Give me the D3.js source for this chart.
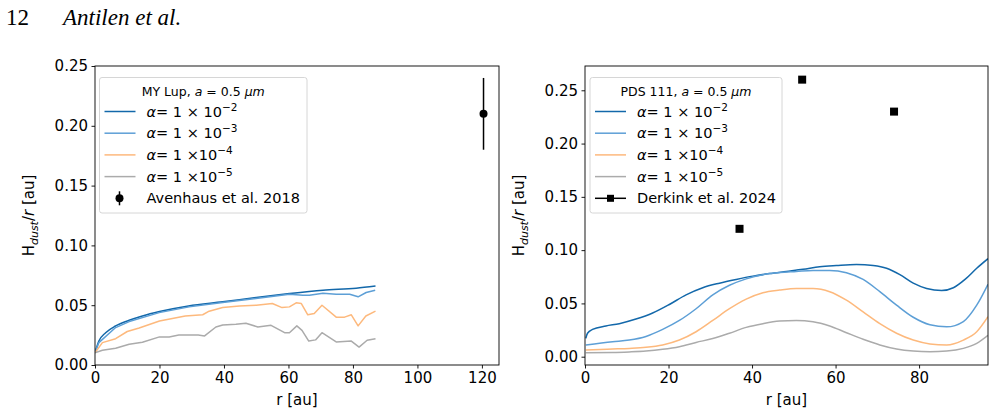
<!DOCTYPE html>
<html>
<head>
<meta charset="utf-8">
<script src="https://cdn.jsdelivr.net/npm/d3@7"></script>
<style>
  body { margin: 0; background: #fff; }
  svg { display: block; }
  text { font-family: "DejaVu Sans", sans-serif; }
</style>
</head>
<body>
<svg id="chart" width="996" height="417"></svg>
<script>
// MY Lup (left panel)
const lupR1 = [0, 1.2, 3.3, 6.4, 10.6, 14.7, 20, 29, 39.6, 50, 60.3, 70.7, 81, 87];
const lupH1 = [0.0103, 0.020, 0.027, 0.0327, 0.0374, 0.041, 0.0447, 0.0494, 0.0528, 0.0564, 0.0597, 0.0625, 0.0642, 0.066];
const lupR2 = [0, 1.2, 6.4, 10.6, 19.9, 29.2, 39.6, 49.9, 60.3, 64.5, 66.5, 70.7, 74.8, 79, 81.6, 84.1, 86.9];
const lupH2 = [0.0103, 0.0187, 0.0313, 0.0363, 0.0438, 0.0486, 0.0522, 0.0556, 0.0592, 0.0583, 0.0583, 0.060, 0.0592, 0.0592, 0.057, 0.0606, 0.0625];
const lupR3 = [0, 2.3, 6.4, 10, 13.7, 20, 24, 28, 33.4, 35.4, 39.6, 44.8, 50, 55, 58, 60.3, 62.4, 64, 66, 68, 70.4, 74.8, 77.4, 79.5, 81.6, 84, 87];
const lupH3 = [0.0103, 0.0187, 0.022, 0.028, 0.031, 0.0368, 0.0388, 0.041, 0.042, 0.045, 0.048, 0.0494, 0.050, 0.0514, 0.048, 0.0486, 0.052, 0.0514, 0.042, 0.043, 0.050, 0.040, 0.040, 0.042, 0.0327, 0.041, 0.045];
const lupR4 = [0, 2.3, 6.4, 10.6, 14.7, 20, 23, 26, 32, 34, 37.5, 39.6, 43.7, 46.8, 50.5, 54.6, 58.8, 60.3, 62.6, 64.2, 66.3, 68.4, 70.4, 74.8, 79.5, 81.9, 84.4, 87];
const lupH4 = [0.0103, 0.0123, 0.014, 0.0173, 0.019, 0.0235, 0.0235, 0.025, 0.025, 0.0243, 0.0318, 0.0335, 0.034, 0.0349, 0.0318, 0.0332, 0.027, 0.027, 0.0327, 0.029, 0.020, 0.021, 0.027, 0.0193, 0.020, 0.015, 0.0207, 0.022];
const avenhaus = { r: 120.5, h: 0.21, err: 0.03 };

// PDS 111 (right panel)
const pdsR1 = [0.2, 0.6, 1.8, 5, 8.2, 12.2, 16.2, 20.2, 24.2, 28.2, 32.2, 36.2, 40.2, 44.2, 48.2, 52.2, 56.2, 60.2, 65, 69, 72.2, 75.4, 78.6, 81.8, 85.4, 88.2, 91, 93.8, 96.5];
const pdsH1 = [0.0172, 0.022, 0.0256, 0.0288, 0.031, 0.0353, 0.041, 0.049, 0.058, 0.0647, 0.069, 0.0725, 0.0756, 0.078, 0.080, 0.082, 0.0844, 0.0856, 0.0866, 0.0856, 0.083, 0.077, 0.069, 0.064, 0.062, 0.0647, 0.0725, 0.083, 0.092];
const pdsR = [0.2, 6.6, 10.6, 14.6, 18.6, 22.6, 26.6, 30.6, 34.6, 38.6, 42.6, 46.6, 50.6, 54.6, 58.6, 62.6, 66.6, 70.6, 74.6, 78.6, 82.6, 86.6, 90.6, 93.8, 96.5];
const pdsH2 = [0.011, 0.014, 0.0156, 0.019, 0.0256, 0.034, 0.045, 0.058, 0.067, 0.073, 0.077, 0.079, 0.080, 0.081, 0.081, 0.0788, 0.0725, 0.061, 0.0484, 0.037, 0.030, 0.028, 0.033, 0.0484, 0.068];
const pdsH3 = [0.0063, 0.0072, 0.0078, 0.0088, 0.011, 0.0156, 0.0234, 0.034, 0.045, 0.054, 0.060, 0.0625, 0.064, 0.064, 0.061, 0.053, 0.042, 0.031, 0.022, 0.0156, 0.012, 0.011, 0.0156, 0.0234, 0.0375];
const pdsH4 = [0.0038, 0.004, 0.0045, 0.0053, 0.0069, 0.0094, 0.0134, 0.017, 0.022, 0.0275, 0.031, 0.0334, 0.034, 0.0328, 0.0288, 0.0225, 0.0163, 0.011, 0.0072, 0.0053, 0.0047, 0.0053, 0.0078, 0.0125, 0.020];
const derkinkR = [37, 52, 74];
const derkinkH = [0.12, 0.26, 0.23];

const alphaExp = ["−2", "−3", "−4", "−5"];
const colors = ["#1368aa", "#5d9fd6", "#fdb97d", "#ababab"];
const yTicks = [0, 0.05, 0.10, 0.15, 0.20, 0.25];

const svg = d3.select("#chart");
svg.append("rect").attr("width", 996).attr("height", 417).attr("fill", "#fff");

// page header
svg.append("text").attr("x", 6).attr("y", 25)
    .style("font-family", "'Liberation Serif', serif").style("font-size", "23px")
    .text("12");
svg.append("text").attr("x", 63).attr("y", 25)
    .style("font-family", "'Liberation Serif', serif").style("font-size", "23px")
    .style("font-style", "italic")
    .text("Antilen et al.");

const zip = (rs, hs) => rs.map((r, i) => ({ r: r, h: hs[i] }));

function drawPanel(cfg) {
    const x = d3.scaleLinear().domain(cfg.xDomain).range([cfg.left, cfg.right]);
    const y = d3.scaleLinear().domain(cfg.yDomain).range([cfg.bottom, cfg.top]);
    const g = svg.append("g");

    const clipId = "clip" + cfg.id;
    g.append("clipPath").attr("id", clipId).append("rect")
        .attr("x", cfg.left).attr("y", cfg.top)
        .attr("width", cfg.right - cfg.left).attr("height", cfg.bottom - cfg.top);

    const plot = g.append("g").attr("clip-path", `url(#${clipId})`);

    cfg.series.forEach((s, i) => {
        const line = d3.line()
            .x(d => x(d.r))
            .y(d => y(d.h))
            .curve(s.smooth ? d3.curveMonotoneX : d3.curveLinear);
        plot.append("path")
            .datum(s.data)
            .attr("fill", "none")
            .attr("stroke", colors[i])
            .attr("stroke-width", 1.5)
            .attr("stroke-linejoin", "round")
            .attr("d", line);
    });

    if (cfg.errorbar) {
        const e = cfg.errorbar;
        plot.append("line")
            .attr("x1", x(e.r)).attr("x2", x(e.r))
            .attr("y1", y(e.h - e.err)).attr("y2", y(e.h + e.err))
            .attr("stroke", "#000").attr("stroke-width", 1.5);
        plot.append("circle")
            .attr("cx", x(e.r)).attr("cy", y(e.h)).attr("r", 4).attr("fill", "#000");
    }
    if (cfg.squares) {
        plot.selectAll("rect.sq")
            .data(cfg.squares)
            .enter().append("rect")
            .attr("class", "sq")
            .attr("x", d => x(d.r) - 4).attr("y", d => y(d.h) - 4)
            .attr("width", 8).attr("height", 8)
            .attr("fill", "#000");
    }

    // axes
    const xAxis = g.append("g")
        .attr("transform", `translate(0,${cfg.bottom})`)
        .call(d3.axisBottom(x).tickValues(cfg.xTicks).tickFormat(d3.format("d"))
            .tickSize(3.5).tickPadding(3.5));
    const yAxis = g.append("g")
        .attr("transform", `translate(${cfg.left},0)`)
        .call(d3.axisLeft(y).tickValues(yTicks).tickFormat(d3.format(".2f"))
            .tickSize(3.5).tickPadding(3.5));
    [xAxis, yAxis].forEach(a => {
        a.select(".domain").remove();
        a.selectAll("text").style("font-size", "15px").attr("fill", "#000")
            .style("font-family", "'DejaVu Sans', sans-serif");
        a.selectAll("line").attr("stroke", "#000").attr("stroke-width", 0.9);
    });

    g.append("rect")
        .attr("x", cfg.left).attr("y", cfg.top)
        .attr("width", cfg.right - cfg.left).attr("height", cfg.bottom - cfg.top)
        .attr("fill", "none").attr("stroke", "#000").attr("stroke-width", 0.9);

    // axis labels
    g.append("text")
        .attr("x", (cfg.left + cfg.right) / 2).attr("y", 405)
        .attr("text-anchor", "middle").style("font-size", "15px")
        .text("r [au]");
    const yl = g.append("text")
        .attr("transform", `translate(${cfg.left - 61},${(cfg.top + cfg.bottom) / 2}) rotate(-90)`)
        .attr("text-anchor", "middle").style("font-size", "15px");
    yl.append("tspan").text("H");
    yl.append("tspan").attr("dy", 4).style("font-size", "11px").style("font-style", "italic").text("dust");
    yl.append("tspan").attr("dy", -4).text("/");
    yl.append("tspan").style("font-style", "italic").text("r");
    yl.append("tspan").text(" [au]");

    // legend
    const L = cfg.legend;
    const lg = g.append("g");
    lg.append("rect")
        .attr("x", L.x).attr("y", L.y).attr("width", L.w).attr("height", L.h)
        .attr("rx", 2.5).attr("fill", "#fff").attr("fill-opacity", 0.8)
        .attr("stroke", "#d6d6d6").attr("stroke-width", 1);
    const t = lg.append("text")
        .attr("x", L.x + L.w / 2).attr("y", L.y + 18)
        .attr("text-anchor", "middle").style("font-size", "12.5px");
    t.append("tspan").text(L.title + ", ");
    t.append("tspan").style("font-style", "italic").text("a");
    t.append("tspan").text(" = 0.5 ");
    t.append("tspan").style("font-style", "italic").text("μm");

    const rowY = i => L.y + 34 + i * 21.7;
    alphaExp.forEach((ex, i) => {
        const yy = rowY(i);
        lg.append("line")
            .attr("x1", L.x + 5).attr("x2", L.x + 36)
            .attr("y1", yy).attr("y2", yy)
            .attr("stroke", colors[i]).attr("stroke-width", 1.5);
        const tx = lg.append("text")
            .attr("x", L.x + 47).attr("y", yy + 5)
            .style("font-size", "14.5px");
        tx.append("tspan").style("font-style", "italic").text("α");
        tx.append("tspan").text(i < 2 ? "= 1 × 10" : "= 1 ×10");
        tx.append("tspan").attr("dy", -6).style("font-size", "10.5px").text(ex);
    });
    const yy = rowY(4);
    if (L.kind === "err") {
        const cx = L.x + 20;
        lg.append("line").attr("x1", cx).attr("x2", cx).attr("y1", yy - 7).attr("y2", yy + 7)
            .attr("stroke", "#000").attr("stroke-width", 1.5);
        lg.append("circle").attr("cx", cx).attr("cy", yy).attr("r", 4).attr("fill", "#000");
    } else {
        lg.append("line").attr("x1", L.x + 5).attr("x2", L.x + 36).attr("y1", yy).attr("y2", yy)
            .attr("stroke", "#000").attr("stroke-width", 1.5);
        lg.append("rect").attr("x", L.x + 20.5 - 3.5).attr("y", yy - 3.5)
            .attr("width", 7).attr("height", 7).attr("fill", "#000");
    }
    lg.append("text").attr("x", L.x + 47).attr("y", yy + 5)
        .style("font-size", "14.5px").text(L.label);
}

drawPanel({
    id: "L", left: 95, right: 499, top: 66, bottom: 365,
    xDomain: [0, 125.3], yDomain: [0, 0.25],
    xTicks: [0, 20, 40, 60, 80, 100, 120],
    series: [
        { data: zip(lupR1, lupH1), smooth: true },
        { data: zip(lupR2, lupH2) },
        { data: zip(lupR3, lupH3) },
        { data: zip(lupR4, lupH4) }
    ],
    errorbar: avenhaus,
    legend: { x: 99.5, y: 77.5, w: 207.5, h: 135.5, title: "MY Lup", kind: "err", label: "Avenhaus et al. 2018" }
});

drawPanel({
    id: "R", left: 585, right: 988, top: 66, bottom: 365,
    xDomain: [0, 96.5], yDomain: [-0.0078, 0.2728],
    xTicks: [0, 20, 40, 60, 80],
    series: [
        { data: zip(pdsR1, pdsH1), smooth: true },
        { data: zip(pdsR, pdsH2), smooth: true },
        { data: zip(pdsR, pdsH3), smooth: true },
        { data: zip(pdsR, pdsH4), smooth: true }
    ],
    squares: zip(derkinkR, derkinkH),
    legend: { x: 590, y: 77.5, w: 192, h: 135.5, title: "PDS 111", kind: "sq", label: "Derkink et al. 2024" }
});
</script>
</body>
</html>
